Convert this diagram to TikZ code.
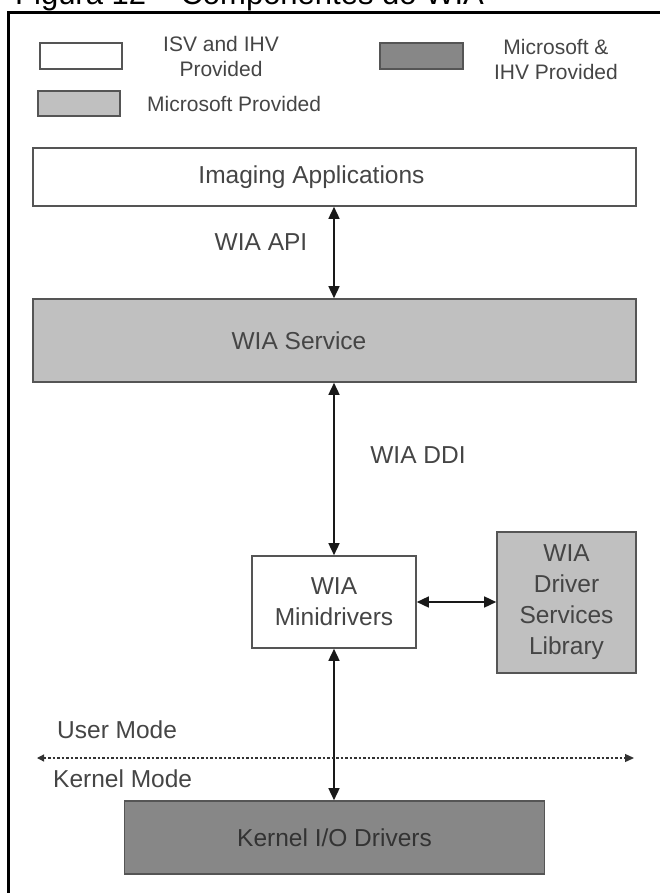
\documentclass[tikz,border=0pt]{standalone}
\usepackage{fontspec}
\setmainfont{Liberation Sans}
\usetikzlibrary{arrows.meta}
\definecolor{lgray}{HTML}{C0C0C0}
\definecolor{dgray}{HTML}{878787}
\definecolor{bord}{HTML}{555555}
\definecolor{txt}{HTML}{454545}
\tikzset{
  boxw/.style={draw=bord, line width=1.6pt, fill=white, inner sep=0pt},
  boxl/.style={draw=bord, line width=1.6pt, fill=lgray, inner sep=0pt},
  boxd/.style={draw=bord, line width=1.6pt, fill=dgray, inner sep=0pt},
  lbl/.style={text=txt, inner sep=0pt, font=\fontsize{24.5}{31}\selectfont},
  leglbl/.style={text=txt, inner sep=0pt, font=\fontsize{21}{25}\selectfont, align=center},
  biarrow/.style={draw=black!90, line width=1.5pt, {Triangle[length=12pt,width=11pt]}-{Triangle[length=12pt,width=11pt]}},
  modeline/.style={draw=black!80, line width=1.3pt, dash pattern=on 2.5pt off 2pt, {Triangle[length=7pt,width=7pt]}-{Triangle[length=9pt,width=8pt]}}
}
\begin{document}
\begin{tikzpicture}[x=1pt, y=-1pt]
\useasboundingbox (0,0) rectangle (660,893);
\clip (0,0) rectangle (660,893);
% title (cut off at top, as in the reference)
\node[anchor=base west, inner sep=0pt, font=\fontsize{31}{36}\selectfont] (title) at (15,5) {Figura 12 – Componentes do WIA};
% frame
\draw[line width=2.5pt, black] (8.5,900) -- (8.5,12.5) -- (670,12.5);
% legend
\node[boxw, minimum width=82pt, minimum height=26pt] (leg1) at (81,56) {};
\node[leglbl] (leg1t) at (221,56) {ISV and IHV\\Provided};
\node[boxl, minimum width=82pt, minimum height=25pt] (leg2) at (79,103.5) {};
\node[leglbl, anchor=west] (leg2t) at (147,103.5) {Microsoft Provided};
\node[boxd, minimum width=83pt, minimum height=26pt] (leg3) at (421.5,56) {};
\node[leglbl] (leg3t) at (556,59) {Microsoft \&\\IHV Provided};
% main boxes
\node[boxw, minimum width=603pt, minimum height=58pt] (app) at (334.5,177) {};
\node[lbl] (appt) at (311.5,177) {Imaging Applications};
\node[boxl, minimum width=603pt, minimum height=83pt] (svc) at (334.5,340.5) {};
\node[lbl] (svct) at (299,341) {WIA Service};
\node[boxw, minimum width=164pt, minimum height=92pt, lbl, align=center] (mini) at (334,602) {WIA\\Minidrivers};
\node[boxl, minimum width=139pt, minimum height=141pt, lbl, align=center] (lib) at (566.5,602.5) {WIA\\Driver\\Services\\Library};
\node[boxd, minimum width=420pt, minimum height=73pt, lbl, text=black!80] (kern) at (334.5,837.5) {Kernel I/O Drivers};
% connectors
\draw[biarrow] (app.south -| mini) -- (svc.north -| mini);
\draw[biarrow] (svc.south -| mini) -- (mini.north);
\draw[biarrow] (mini.east) -- (lib.west |- mini.east);
\draw[biarrow] (mini.south) -- (kern.north -| mini);
\node[lbl] (api) at (261,242) {WIA API};
\node[lbl] (ddi) at (418,455) {WIA DDI};
% user/kernel mode boundary
\coordinate (ml) at (37,758);
\coordinate (mr) at (634,758);
\draw[modeline] (ml) -- (mr);
\node[lbl, anchor=west] (um) at (57,730) {User Mode};
\node[lbl, anchor=west] (km) at (53,779) {Kernel Mode};
\end{tikzpicture}
\end{document}
